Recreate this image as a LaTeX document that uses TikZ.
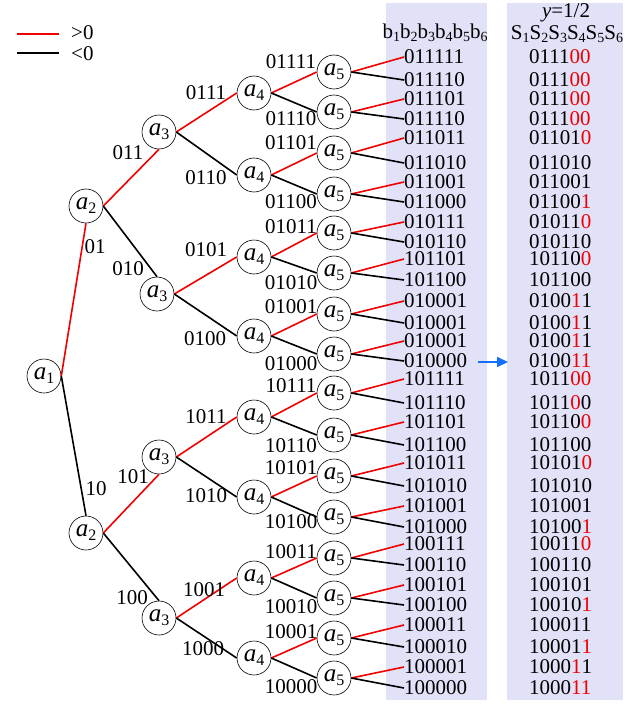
\documentclass[tikz,border=0pt]{standalone}
\usepackage{fontspec}
\setmainfont{Liberation Serif}
\usetikzlibrary{arrows.meta}
\definecolor{band}{RGB}{225,225,248}
\definecolor{pos}{RGB}{240,0,0}
\definecolor{arrowblue}{RGB}{20,110,255}
\newcommand{\R}[1]{\textcolor{pos}{#1}}
\newcommand{\sbs}[1]{\raisebox{-3bp}{\fontsize{14bp}{14bp}\selectfont #1}}
\newcommand{\an}[1]{{\fontsize{25bp}{25bp}\selectfont\itshape a}\raisebox{-4bp}{\fontsize{16bp}{16bp}\selectfont #1}}
\tikzset{
  tnode/.style={circle, draw, line width=0.6bp, fill=white, minimum size=34bp, inner sep=0pt},
  elab/.style={font=\fontsize{21bp}{21bp}\selectfont, inner sep=0pt, text depth=0pt},
  leaf/.style={font=\fontsize{21bp}{21bp}\selectfont, inner sep=0pt, text depth=0pt, anchor=west},
  up/.style={draw=pos, line width=1.6bp},
  dn/.style={draw=black, line width=1.6bp},
}
\begin{document}
\begin{tikzpicture}[x=1bp, y=-1bp]
\useasboundingbox (0,0) rectangle (637,705);
% shaded columns
\fill[band] (386,3) rectangle (487,700);
\fill[band] (507,3) rectangle (623,700);

% legend
\coordinate (lr1) at (17,34); \coordinate (lr2) at (59,34);
\coordinate (lb1) at (17,53); \coordinate (lb2) at (59,53);
\draw[up] (lr1) -- (lr2);
\draw[dn] (lb1) -- (lb2);
\node[elab, anchor=west] (lgp) at (71,33) {>0};
\node[elab, anchor=west] (lgn) at (71,54) {<0};

% headers
\node[font=\fontsize{21bp}{21bp}\selectfont, inner sep=0pt, anchor=base] (hb) at (435,39)
  {b\sbs{1}b\sbs{2}b\sbs{3}b\sbs{4}b\sbs{5}b\sbs{6}};
\node[font=\fontsize{21bp}{21bp}\selectfont, inner sep=0pt, anchor=base] (hy) at (566,18)
  {\textit{y}=1/2};
\node[font=\fontsize{21bp}{21bp}\selectfont, inner sep=0pt, anchor=base] (hs) at (567,40)
  {S\sbs{1}S\sbs{2}S\sbs{3}S\sbs{4}S\sbs{5}S\sbs{6}};

% tree nodes
\node[tnode] (a1) at (44,376) {\an{1}};
\node[tnode] (a2u) at (86,206) {\an{2}};
\node[tnode] (a2l) at (86,533) {\an{2}};
\node[tnode] (r1) at (159,132) {\an{3}};
\node[tnode] (r2) at (157,294) {\an{3}};
\node[tnode] (r3) at (159,457) {\an{3}};
\node[tnode] (r4) at (159,618) {\an{3}};
\foreach \y [count=\i] in {93,175,257,336,417,497,578,658}
  \node[tnode] (q\i) at (254,\y) {\an{4}};
\foreach \y [count=\i] in {72,112,153,194,233,273,314,354,393,435,476,517,558,598,638,678}
  \node[tnode] (p\i) at (334,\y) {\an{5}};

% leaves and mapped codes
\foreach \y/\b/\s [count=\i] in {
  57/011111/0111\R{00}, 80/011110/0111\R{00}, 99/011101/0111\R{00}, 119/011110/0111\R{00},
  138/011011/01101\R{0}, 163/011010/011010, 182/011001/011001, 202/011000/01100\R{1},
  222/010111/01011\R{0}, 242/010110/010110, 259/101101/10110\R{0}, 280/101100/101100,
  301/010001/0100\R{1}1, 323/010001/0100\R{1}1, 341/010001/0100\R{1}1, 361/010000/0100\R{11},
  379/101111/1011\R{00}, 403/101110/1011\R{0}0, 422/101101/10110\R{0}, 445/101100/101100,
  463/101011/10101\R{0}, 486/101010/101010, 506/101001/101001, 527/101000/10100\R{1},
  544/100111/10011\R{0}, 565/100110/100110, 585/100101/100101, 605/100100/10010\R{1},
  625/100011/100011, 647/100010/10001\R{1}, 667/100001/1000\R{1}1, 688/100000/1000\R{11}} {
  \node[leaf] (b\i) at (404,\y) {\b};
  \node[leaf] (s\i) at (529,\y) {\s};
}

% edges
\draw[up] (a1.east) -- (a2u.south);
\draw[dn] (a1.east) -- (a2l.north);
\draw[up] (a2u.east) -- (r1.south);
\draw[dn] (a2u.east) -- (r2.north);
\draw[up] (a2l.east) -- (r3.south);
\draw[dn] (a2l.east) -- (r4.north);
\foreach \k in {1,...,4} {
  \pgfmathtruncatemacro\u{2*\k-1}\pgfmathtruncatemacro\d{2*\k}
  \draw[up] (r\k.east) -- (q\u.west);
  \draw[dn] (r\k.east) -- (q\d.west);
}
\foreach \k in {1,...,8} {
  \pgfmathtruncatemacro\u{2*\k-1}\pgfmathtruncatemacro\d{2*\k}
  \draw[up] (q\k.east) -- (p\u.west);
  \draw[dn] (q\k.east) -- (p\d.west);
}
\foreach \k in {1,...,16} {
  \pgfmathtruncatemacro\u{2*\k-1}\pgfmathtruncatemacro\d{2*\k}
  \draw[up] (p\k.east) -- (b\u.west);
  \draw[dn] (p\k.east) -- (b\d.west);
}

% edge labels
\node[elab] (t01) at (95,247) {01};
\node[elab] (t10) at (96,489) {10};
\node[elab] (t011) at (128,153) {011};
\node[elab] (t010) at (128,269) {010};
\node[elab] (t101) at (133,477) {101};
\node[elab] (t100) at (132,598) {100};
\node[elab] (t0111) at (206,93) {0111};
\node[elab] (t0110) at (206,178) {0110};
\node[elab] (t0101) at (206,250) {0101};
\node[elab] (t0100) at (205,339) {0100};
\node[elab] (t1011) at (206,417) {1011};
\node[elab] (t1010) at (206,496) {1010};
\node[elab] (t1001) at (204,590) {1001};
\node[elab] (t1000) at (203,649) {1000};
\foreach \y/\t in {62/01111, 119/01110, 143/01101, 202/01100, 227/01011, 283/01010,
  307/01001, 364/01000, 386/10111, 446/10110, 468/10101, 522/10100,
  552/10011, 607/10010, 632/10001, 687/10000}
  \node[elab] (t\t) at (291,\y) {\t};

% arrow between the two columns
\coordinate (arS) at (478,362);
\coordinate (arE) at (508,362);
\draw[arrowblue, line width=2bp, -{Triangle[length=11bp,width=10bp]}] (arS) -- (arE);
\end{tikzpicture}
\end{document}
